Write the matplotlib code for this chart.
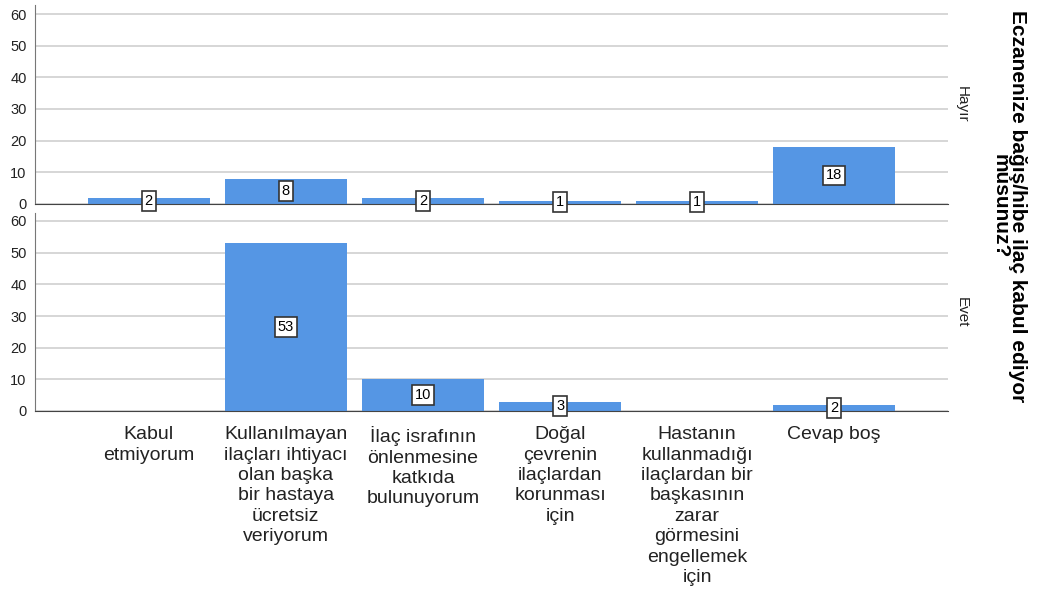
import numpy as np
import matplotlib
matplotlib.use("Agg")
from matplotlib import pyplot as plt

plt.rcParams['font.family'] = ['Liberation Sans', 'DejaVu Sans']

categories = ["Kabul\netmiyorum",
              "Kullanılmayan\nilaçları ihtiyacı\nolan başka\nbir hastaya\nücretsiz\nveriyorum",
              "İlaç israfının\nönlenmesine\nkatkıda\nbulunuyorum",
              "Doğal\nçevrenin\nilaçlardan\nkorunması\niçin",
              "Hastanın\nkullanmadığı\nilaçlardan bir\nbaşkasının\nzarar\ngörmesini\nengellemek\niçin",
              "Cevap boş"]
rows = ["Hayır", "Evet"]
hayir = [2, 8, 2, 1, 1, 18]
evet = [0, 53, 10, 3, 0, 2]
yticks = [0, 10, 20, 30, 40, 50, 60]
title = "Eczanenize bağış/hibe ilaç kabul ediyor\nmusunuz?"

bar_color = '#5596E4'

fig = plt.figure(figsize=(10.42, 5.97), dpi=100)
W, H = 1042, 597
left, right = 35 / W, 948 / W
ax_top = fig.add_axes([left, 1 - 204 / H, right - left, (204 - 5) / H])
ax_bot = fig.add_axes([left, 1 - 411 / H, right - left, (411 - 213) / H])

x = np.arange(len(categories))
for ax, vals, row, top_px, bot_px in [(ax_top, hayir, rows[0], 5, 204),
                                      (ax_bot, evet, rows[1], 213, 411)]:
    ax.set_xlim(-0.83, 5.83)
    ymax = 60 * (bot_px - top_px) / 190.0
    ax.set_ylim(0, ymax)
    ax.set_yticks(yticks)
    ax.yaxis.grid(True, color='#d0d0d0', linewidth=1.2)
    ax.set_axisbelow(True)
    for sp in ['top', 'right']:
        ax.spines[sp].set_visible(False)
    ax.spines['left'].set_color('#777777')
    ax.spines['bottom'].set_color('#444444')
    ax.tick_params(axis='y', length=0, labelsize=10.5, pad=6, colors='#222222')
    for xi, v in zip(x, vals):
        if v <= 0:
            continue
        ax.bar(xi, v, width=0.89, color=bar_color, zorder=2)
        ax.text(xi, v / 2.0, str(v), ha='center', va='center', fontsize=10.5,
                zorder=3,
                bbox=dict(boxstyle='square,pad=0.2', fc='white', ec='#333333', lw=1.2))
    ax.text(1.015, 0.5, row, transform=ax.transAxes, rotation=270,
            ha='center', va='center', fontsize=11, color='#222222')

ax_top.set_xticks([])
ax_top.tick_params(axis='x', length=0)
ax_bot.set_xticks(x)
ax_bot.set_xticklabels(categories, fontsize=14, linespacing=1.26, color='#222222')
ax_bot.tick_params(axis='x', length=0, pad=11)

fig.text(0.968, 1 - 206 / H, title, rotation=270, ha='center', va='center',
         fontsize=15, fontweight='bold', multialignment='center', linespacing=0.92)

fig.savefig("out.png", dpi=100)
